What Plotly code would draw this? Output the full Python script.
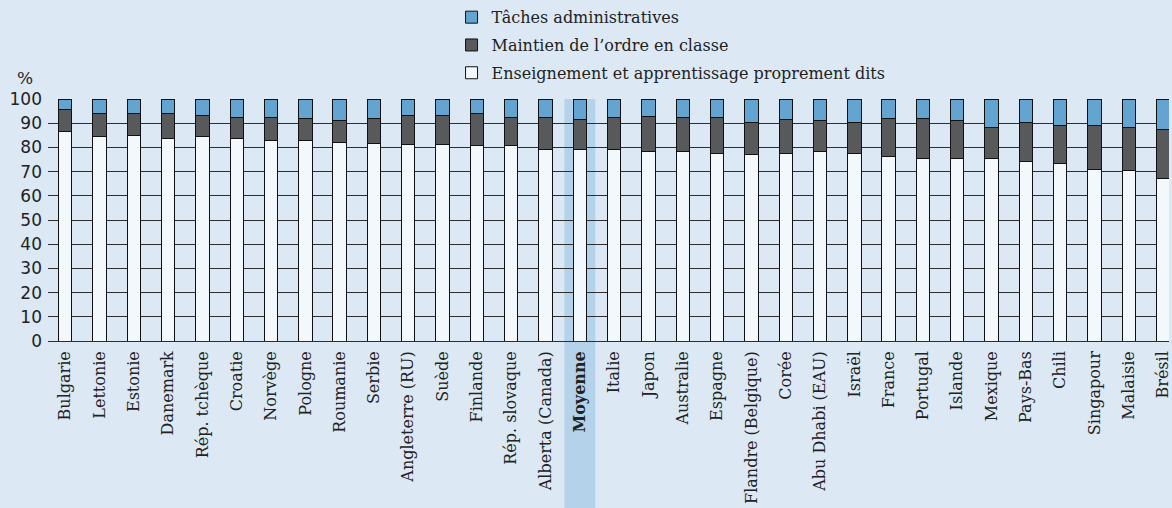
import plotly.graph_objects as go

categories = ["Bulgarie", "Lettonie", "Estonie", "Danemark", "Rép. tchèque", "Croatie",
              "Norvège", "Pologne", "Roumanie", "Serbie", "Angleterre (RU)", "Suède",
              "Finlande", "Rép. slovaque", "Alberta (Canada)", "Moyenne", "Italie", "Japon",
              "Australie", "Espagne", "Flandre (Belgique)", "Corée", "Abu Dhabi (EAU)",
              "Israël", "France", "Portugal", "Islande", "Mexique", "Pays-Bas", "Chili",
              "Singapour", "Malaisie", "Brésil"]

enseignement = [86.5, 84.4, 85.1, 83.6, 84.4, 83.6, 82.8, 82.8, 82.1, 81.5, 81.4, 81.4,
                80.7, 80.7, 79.1, 79.1, 79.1, 78.4, 78.4, 77.6, 77.0, 77.6, 78.3,
                77.6, 76.2, 75.4, 75.4, 75.4, 74.0, 73.4, 71.0, 70.3, 67.2]
maintien = [9.0, 9.5, 8.8, 10.3, 8.9, 8.9, 9.7, 9.0, 8.9, 10.3, 11.8, 11.8,
            13.3, 11.6, 13.2, 12.5, 13.2, 14.2, 14.1, 14.7, 13.2, 14.0, 12.7,
            12.6, 15.6, 16.4, 15.6, 12.7, 16.2, 15.5, 17.9, 17.8, 20.2]
administratif = [4.5, 6.1, 6.1, 6.1, 6.7, 7.5, 7.5, 8.2, 9.0, 8.2, 6.8, 6.8,
                 6.0, 7.7, 7.7, 8.4, 7.7, 7.4, 7.5, 7.7, 9.8, 8.4, 9.0,
                 9.8, 8.2, 8.2, 9.0, 11.9, 9.8, 11.1, 11.1, 11.9, 12.6]

series_names = ["Enseignement et apprentissage proprement dits",
                "Maintien de l’ordre en classe",
                "Tâches administratives"]
highlight = "Moyenne"
y_ticks = [0, 10, 20, 30, 40, 50, 60, 70, 80, 90, 100]

BG = "#dce9f4"
colors = ["#f3f8fc", "#58595b", "#63a5d0"]
SERIF = "DejaVu Serif"

fig = go.Figure()
n = len(series_names)
for i, (name, vals, col) in enumerate(zip(series_names, [enseignement, maintien, administratif], colors)):
    fig.add_trace(go.Bar(
        x=categories, y=vals, name=name, legendgroup=f"g{i}", legendrank=n - i,
        marker=dict(color=col, line=dict(color="#111111", width=1)),
        width=0.39,
    ))

ticktext = [f"<b>{c}</b>" if c == highlight else c for c in categories]
hi = categories.index(highlight)

fig.add_shape(type="rect", xref="x", yref="paper",
              x0=hi - 0.45, x1=hi + 0.45, y0=-0.72, y1=1,
              fillcolor="#b4d2ea", line=dict(width=0), layer="below")

fig.add_annotation(text="%", xref="paper", yref="paper", x=-0.012, y=1.0,
                   xanchor="right", yanchor="bottom", yshift=9, showarrow=False,
                   font=dict(family=SERIF, size=17, color="#222222"))

fig.update_layout(
    width=1172, height=508,
    barmode="stack",
    paper_bgcolor=BG, plot_bgcolor=BG,
    margin=dict(l=48, r=0, t=97, b=167),
    showlegend=True,
    legend=dict(traceorder="grouped", x=0.360, y=1.408, xanchor="left", yanchor="top",
                font=dict(family=SERIF, size=16, color="#222222"),
                bgcolor="rgba(0,0,0,0)", tracegroupgap=4),
    xaxis=dict(type="category", range=[-0.5, 32.17], tickmode="array",
               tickvals=categories, ticktext=ticktext, tickangle=-90,
               tickfont=dict(family=SERIF, size=16, color="#222222"),
               showgrid=False, showline=False, ticks="", ticklabelstandoff=6),
    yaxis=dict(range=[0, 100], tickvals=y_ticks, showgrid=True,
               gridcolor="#2e2e2e", gridwidth=1, zeroline=True,
               zerolinecolor="#2e2e2e", zerolinewidth=1,
               tickfont=dict(family="DejaVu Sans", size=17, color="#222222"),
               ticks="", ticklabelstandoff=5),
    font=dict(family=SERIF, color="#222222"),
)

fig.write_html("out.html", config={"displayModeBar": False},
               post_script="document.body.style.margin='0';")
